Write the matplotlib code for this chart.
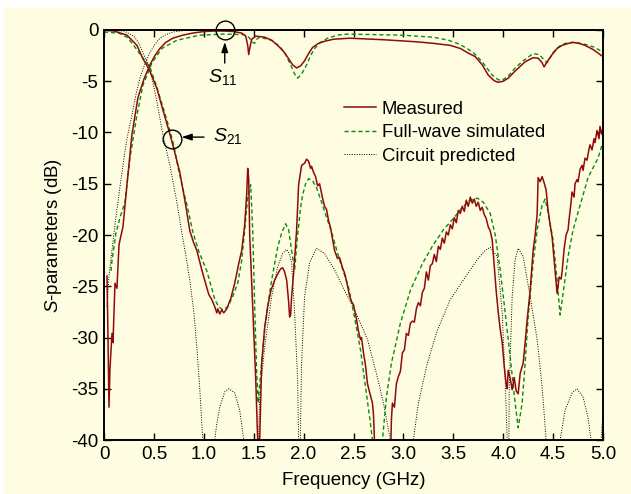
import matplotlib
matplotlib.use('Agg')
import matplotlib.pyplot as plt
from matplotlib.patches import Rectangle

plt.rcParams['font.family'] = ['Liberation Sans', 'DejaVu Sans']
plt.rcParams['axes.unicode_minus'] = False
plt.rcParams['mathtext.fontset'] = 'custom'
plt.rcParams['mathtext.rm'] = 'Liberation Sans'
plt.rcParams['mathtext.it'] = 'Liberation Sans:italic'

# ---- data (GHz, dB) ----
f_s21_meas = [0, 0.1, 0.23, 0.33, 0.39, 0.45, 0.53, 0.59, 0.65, 0.7, 0.76, 0.81, 0.86, 0.9, 0.93, 0.98,
              1.02, 1.05, 1.08, 1.11, 1.13, 1.14, 1.16, 1.18, 1.2, 1.23, 1.27, 1.31, 1.35, 1.38, 1.41, 1.43,
              1.44, 1.45, 1.46, 1.49, 1.52, 1.54, 1.55, 1.56, 1.58, 1.61, 1.64, 1.67, 1.71, 1.74, 1.77, 1.79,
              1.81, 1.83, 1.85, 1.86, 1.87, 1.88, 1.9, 1.93, 1.95, 1.98, 2.01, 2.03, 2.05, 2.07, 2.08, 2.1,
              2.12, 2.14, 2.16, 2.19, 2.21, 2.23, 2.25, 2.27, 2.31, 2.34, 2.36, 2.39, 2.41, 2.43, 2.46, 2.48,
              2.5, 2.53, 2.55, 2.57, 2.58, 2.6, 2.62, 2.64, 2.66, 2.69, 2.7, 2.71, 2.72,
              2.87, 2.88, 2.89, 2.91, 2.93, 2.95, 2.97, 2.99, 3.01, 3.03, 3.05, 3.07, 3.09, 3.11, 3.13, 3.15,
              3.17, 3.19, 3.21, 3.23, 3.25, 3.27, 3.29, 3.31, 3.33, 3.35, 3.37, 3.39, 3.41, 3.43, 3.45, 3.47,
              3.49, 3.51, 3.53, 3.55, 3.57, 3.59, 3.61, 3.63, 3.65, 3.67, 3.69, 3.71, 3.73, 3.75, 3.77, 3.79,
              3.81, 3.83, 3.85, 3.87, 3.89, 3.91, 3.93, 3.95, 3.97, 3.99, 4.01, 4.03, 4.04, 4.05, 4.07, 4.09,
              4.11, 4.13, 4.15, 4.17, 4.2, 4.22, 4.24, 4.27, 4.3, 4.32, 4.34, 4.35, 4.37, 4.39, 4.41, 4.43,
              4.45, 4.47, 4.49, 4.51, 4.53, 4.54, 4.55, 4.56, 4.58, 4.59, 4.61, 4.63, 4.65, 4.66, 4.68, 4.69,
              4.71, 4.72, 4.74, 4.75, 4.77, 4.79, 4.8, 4.82, 4.84, 4.86, 4.87, 4.89, 4.91, 4.92, 4.94, 4.96,
              4.97, 4.99, 5.0]
s21_meas = [0, -0.1, -0.5, -1.5, -2.8, -3.8, -5.7, -7.8, -9.8, -11.6, -13.9, -16.6, -19.6, -20.8, -21.5, -23.4,
            -24.8, -25.8, -26.3, -27.0, -27.6, -27.2, -27.7, -27.3, -27.6, -27.2, -26.2, -24.7, -22.8, -21.5, -19.0, -16.0,
            -13.5, -14.5, -20.0, -27.0, -34.0, -40.0, -42.0, -40.0, -32.5, -29.0, -27.0, -25.5, -24.4, -23.8, -23.3, -23.2,
            -23.6, -24.4, -26.5, -28.0, -27.8, -26.0, -23.7, -19.5, -15.1, -13.2, -13.0, -12.6, -12.8, -13.5, -13.3, -13.9,
            -14.3, -15.2, -15.0, -16.4, -17.2, -17.5, -18.6, -19.3, -21.5, -22.3, -22.2, -23.2, -23.7, -24.5, -25.9, -26.5,
            -26.8, -28.2, -29.4, -30.2, -30.0, -31.5, -32.7, -34.5, -35.3, -36.4, -37.5, -40.0, -42.0,
            -42.0, -38.0, -36.4, -36.8, -34.5, -33.8, -33.3, -31.5, -31.2, -29.6, -29.8, -28.6, -28.4, -28.5, -27.2, -26.6,
            -26.9, -25.6, -25.2, -23.6, -24.4, -23.0, -22.8, -21.9, -22.6, -21.1, -21.4, -20.3, -20.8, -19.7, -20.0, -19.0,
            -19.4, -18.3, -18.8, -17.6, -17.9, -17.2, -17.7, -16.6, -17.2, -16.3, -16.9, -16.5, -17.2, -16.8, -17.6, -17.3,
            -18.0, -18.4, -19.2, -19.6, -20.5, -23.0, -25.5, -27.5, -29.2, -30.5, -32.8, -34.6, -35.0, -33.2, -34.0, -35.1,
            -33.9, -35.2, -35.5, -33.5, -32.5, -30.5, -28.3, -25.4, -21.5, -20.0, -18.0, -14.4, -14.8, -14.3, -14.9, -15.6,
            -17.6, -19.0, -20.2, -22.4, -24.5, -25.7, -25.0, -24.1, -24.3, -23.6, -21.4, -20.0, -19.5, -18.5, -16.8, -15.8,
            -16.3, -15.0, -14.6, -14.8, -13.6, -13.2, -13.7, -12.5, -12.7, -11.6, -11.2, -11.7, -10.6, -11.0, -9.8, -10.6,
            -9.4, -10.2, -9.5]

f_s11_meas = [0.03, 0.04, 0.05, 0.06, 0.08, 0.09, 0.11, 0.13, 0.15, 0.16, 0.19, 0.23, 0.28, 0.34, 0.4, 0.46,
              0.51, 0.56, 0.62, 0.69, 0.79, 0.89, 1.0, 1.1, 1.2, 1.3, 1.38, 1.42, 1.44, 1.45, 1.46, 1.48,
              1.52, 1.61, 1.68, 1.74, 1.8, 1.85, 1.89, 1.93, 1.97, 2.01, 2.05, 2.09, 2.15, 2.21, 2.3, 2.46,
              2.8, 3.13, 3.3, 3.47, 3.57, 3.64, 3.72, 3.79, 3.85, 3.91, 3.95, 4.0, 4.05, 4.12, 4.22, 4.3,
              4.35, 4.39, 4.41, 4.44, 4.49, 4.54, 4.59, 4.69, 4.76, 4.82, 4.9, 5.0]
s11_meas = [-24.0, -30.0, -36.8, -33.0, -29.6, -30.5, -24.7, -25.2, -21.0, -20.5, -19.2, -15.1, -10.2, -6.6, -4.8, -3.4,
            -2.5, -1.8, -1.2, -0.8, -0.5, -0.3, -0.15, -0.1, -0.1, -0.15, -0.3, -0.6, -1.5, -2.4, -1.8, -0.9,
            -0.6, -0.7, -1.0, -1.5, -2.1, -2.8, -3.4, -3.7, -3.5, -3.0, -2.3, -1.7, -1.3, -1.1, -0.9, -0.8,
            -0.95, -1.15, -1.3, -1.5, -1.8, -2.2, -2.6, -3.4, -4.4, -4.95, -5.1, -5.0, -4.7, -4.0, -3.1, -2.7,
            -2.75, -3.2, -3.6, -3.1, -2.4, -1.8, -1.5, -1.2, -1.3, -1.5, -1.9, -2.6]

f_s21_sim = [0, 0.15, 0.23, 0.29, 0.35, 0.41, 0.46, 0.53, 0.6, 0.66, 0.7, 0.74, 0.79, 0.83, 0.89, 0.95,
             1.03, 1.08, 1.11, 1.15, 1.19, 1.24, 1.29, 1.34, 1.38, 1.41, 1.44, 1.47, 1.49, 1.51, 1.53, 1.545,
             1.56, 1.58, 1.61, 1.65, 1.68, 1.74, 1.78, 1.82, 1.85, 1.88, 1.91, 1.94, 1.97, 1.99, 2.02, 2.05,
             2.09, 2.13, 2.17, 2.21, 2.28, 2.35, 2.45, 2.51, 2.57, 2.62, 2.67, 2.69, 2.7, 2.78, 2.79, 2.83,
             2.88, 2.97, 3.07, 3.19, 3.29, 3.4, 3.5, 3.6, 3.68, 3.74, 3.8, 3.87, 3.92, 3.97, 4.02, 4.07,
             4.12, 4.15, 4.19, 4.22, 4.25, 4.3, 4.34, 4.39, 4.42, 4.45, 4.5, 4.54, 4.57, 4.6, 4.65, 4.7,
             4.75, 4.85, 4.95, 5.0]
s21_sim = [-0.2, -0.3, -0.7, -1.4, -2.2, -3.0, -3.6, -5.6, -7.8, -9.8, -11.3, -13.3, -15.5, -17.0, -19.7, -21.6,
           -23.5, -25.2, -26.3, -27.0, -27.3, -27.0, -26.0, -24.7, -22.5, -19.5, -16.3, -15.1, -19.5, -27.0, -33.5, -36.4,
           -34.5, -32.5, -29.3, -26.3, -24.4, -21.2, -19.8, -18.9, -19.5, -21.5, -23.4, -20.0, -17.3, -16.1, -15.0, -14.5,
           -14.7, -15.4, -16.5, -17.7, -19.7, -22.1, -25.1, -28.0, -31.2, -34.8, -38.4, -40.0, -42.0, -42.0, -40.0, -35.8,
           -32.5, -28.6, -25.4, -22.8, -21.1, -19.5, -18.4, -17.2, -16.6, -16.4, -16.8, -17.9, -20.0, -23.4, -27.6, -31.9,
           -36.4, -38.8, -36.4, -32.5, -28.0, -22.7, -19.5, -17.1, -16.5, -17.8, -20.5, -24.4, -27.8, -25.7, -22.1, -19.5,
           -17.8, -14.4, -12.5, -10.9]

f_s11_sim = [0.07, 0.08, 0.12, 0.16, 0.21, 0.26, 0.33, 0.39, 0.48, 0.58, 0.73, 0.96, 1.2, 1.4, 1.45, 1.49,
             1.51, 1.53, 1.56, 1.68, 1.76, 1.81, 1.87, 1.91, 1.94, 1.98, 2.03, 2.07, 2.11, 2.17, 2.24, 2.34,
             2.44, 2.97, 3.3, 3.45, 3.54, 3.62, 3.7, 3.79, 3.89, 3.95, 3.99, 4.05, 4.12, 4.2, 4.3, 4.36,
             4.4, 4.44, 4.47, 4.5, 4.56, 4.62, 4.72, 4.82, 4.92, 5.0]
s11_sim = [-23.5, -22.5, -19.8, -18.3, -16.8, -12.5, -8.3, -5.4, -3.2, -1.8, -1.0, -0.5, -0.4, -0.45, -0.7, -1.2,
           -1.3, -0.9, -0.7, -1.0, -1.6, -2.2, -3.4, -4.3, -4.7, -4.3, -3.4, -2.5, -1.8, -1.2, -0.8, -0.5,
           -0.4, -0.5, -0.7, -1.0, -1.3, -1.7, -2.2, -3.1, -4.4, -4.85, -4.9, -4.5, -3.7, -3.0, -2.3, -2.4,
           -2.8, -3.2, -2.7, -2.2, -1.6, -1.3, -1.2, -1.4, -1.7, -2.2]

f_s21_circ = [0, 0.2, 0.3, 0.35, 0.39, 0.46, 0.53, 0.59, 0.66, 0.73, 0.78, 0.82, 0.86, 0.9, 0.93, 0.96,
              0.99, 1.0, 1.1, 1.11, 1.13, 1.16, 1.21, 1.25, 1.31, 1.36, 1.4, 1.41, 1.54, 1.56, 1.61, 1.68,
              1.74, 1.79, 1.83, 1.86, 1.88, 1.91, 1.94, 1.95, 1.955, 1.965, 1.97, 1.98, 2.01, 2.06, 2.13, 2.21,
              2.31, 2.41, 2.51, 2.64, 2.74, 2.8, 2.87, 2.9, 3.08, 3.1, 3.15, 3.24, 3.34, 3.47, 3.6, 3.74,
              3.82, 3.87, 3.94, 3.99, 4.02, 4.04, 4.045, 4.055, 4.06, 4.09, 4.12, 4.15, 4.2, 4.27, 4.34, 4.39,
              4.43, 4.45, 4.55, 4.57, 4.62, 4.69, 4.74, 4.8, 4.85, 4.88, 4.9, 4.96, 4.98, 5.0]
s21_circ = [0, -0.1, -0.6, -1.3, -2.2, -3.7, -7.0, -10.2, -13.2, -16.8, -19.8, -22.0, -24.4, -27.5, -30.9, -35.1,
            -40.0, -43.0, -43.0, -40.0, -38.4, -36.8, -35.3, -35.0, -35.4, -37.1, -40.0, -43.0, -43.0, -35.8, -30.9, -26.0,
            -23.1, -21.8, -21.4, -21.9, -22.7, -27.6, -34.1, -40.0, -43.0, -43.0, -38.0, -32.5, -26.0, -22.7, -21.3, -21.8,
            -23.4, -25.4, -27.3, -30.2, -33.9, -36.4, -40.0, -43.0, -43.0, -40.0, -36.4, -32.5, -29.3, -26.3, -24.4, -22.4,
            -21.5, -21.2, -22.1, -27.6, -34.1, -40.0, -44.0, -44.0, -35.0, -26.0, -22.4, -21.3, -22.1, -26.0, -30.2, -34.8,
            -40.0, -43.0, -43.0, -40.0, -37.1, -35.4, -35.0, -35.8, -37.8, -40.0, -43.0, -43.0, -40.0, -37.5]

f_s11_circ = [0.03, 0.05, 0.08, 0.11, 0.15, 0.19, 0.23, 0.28, 0.32, 0.36, 0.41, 0.46, 0.51, 0.56, 0.62, 0.69,
              0.8, 1.0, 5.0]
s11_circ = [-27.0, -24.0, -21.5, -19.0, -16.0, -13.2, -10.6, -8.3, -6.3, -4.7, -3.3, -2.2, -1.4, -0.8, -0.45, -0.2,
            -0.05, 0, 0]

x_ticks = [0, 0.5, 1.0, 1.5, 2.0, 2.5, 3.0, 3.5, 4.0, 4.5, 5.0]
x_labels = ['0', '0.5', '1.0', '1.5', '2.0', '2.5', '3.0', '3.5', '4.0', '4.5', '5.0']
y_ticks = [0, -5, -10, -15, -20, -25, -30, -35, -40]

red = '#8f0a0a'
green = '#0a8a0a'
bg = '#fffde1'

fig = plt.figure(figsize=(6.31, 4.94), dpi=100, facecolor='white')
# yellow panel, leaving a thin white strip on top and left
fig.add_artist(Rectangle((4 / 631, 0), 1, (494 - 8) / 494, transform=fig.transFigure,
                         facecolor=bg, edgecolor='none', zorder=-10))
ax = fig.add_axes([104 / 631, 54 / 494, 499 / 631, 410 / 494])
ax.set_facecolor('none')

meas_kw = dict(color=red, lw=1.1)
sim_kw = dict(color=green, lw=1.0, linestyle=(0, (3, 2)))
circ_kw = dict(color='black', lw=0.7, linestyle=(0, (1, 1.5)))

ax.plot(f_s21_circ, s21_circ, **circ_kw)
ax.plot(f_s11_circ, s11_circ, label='Circuit predicted', **circ_kw)
ax.plot(f_s21_sim, s21_sim, **sim_kw)
ax.plot(f_s11_sim, s11_sim, label='Full-wave simulated', **sim_kw)
ax.plot(f_s21_meas, s21_meas, **meas_kw)
ax.plot(f_s11_meas, s11_meas, label='Measured', **meas_kw)

ax.set_xlim(0, 5)
ax.set_ylim(-40, 0)
ax.set_xticks(x_ticks)
ax.set_xticklabels(x_labels)
ax.set_yticks(y_ticks)
ax.tick_params(direction='in', length=5, width=1, top=True, right=True, labelsize=13.5, pad=4)
for s in ax.spines.values():
    s.set_linewidth(1.4)

ax.set_xlabel('Frequency (GHz)', fontsize=13.5, labelpad=7)
ax.set_ylabel(r'$\mathit{S}$-parameters (dB)', fontsize=13.5, labelpad=5)

# markers pointing at S11 / S21
ax.plot([1.21], [0], 'o', ms=13.5, mfc='none', mec='black', mew=1, clip_on=False)
ax.plot([0.68], [-10.6], 'o', ms=13.5, mfc='none', mec='black', mew=1)
ax.annotate('', xy=(1.21, -0.9), xytext=(1.21, -3.5),
            arrowprops=dict(arrowstyle='-|>,head_length=0.6,head_width=0.2', color='black', lw=1))
ax.annotate('', xy=(0.75, -10.45), xytext=(1.03, -10.45),
            arrowprops=dict(arrowstyle='-|>,head_length=0.6,head_width=0.2', color='black', lw=1))
ax.text(1.19, -4.6, r'$\mathit{S}_{11}$', fontsize=14, ha='center', va='center')
ax.text(1.09, -10.35, r'$\mathit{S}_{21}$', fontsize=14, ha='left', va='center')

h, l = ax.get_legend_handles_labels()
ax.legend(h[::-1], l[::-1], loc='upper left', bbox_to_anchor=(0.462, 0.85), frameon=False,
          fontsize=13.3, handlelength=1.75, handletextpad=0.3, labelspacing=0.35, borderpad=0)

fig.savefig('out.png', dpi=100, facecolor=fig.get_facecolor())
